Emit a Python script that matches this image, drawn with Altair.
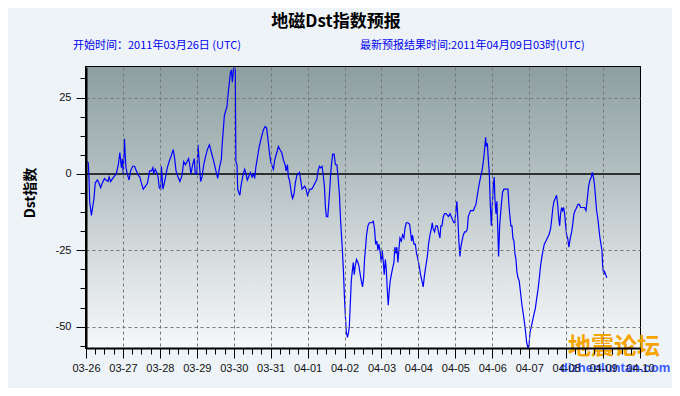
import altair as alt
import pandas as pd

# ---------------- data ----------------
day_labels = ["03-26", "03-27", "03-28", "03-29", "03-30", "03-31", "04-01", "04-02",
              "04-03", "04-04", "04-05", "04-06", "04-07", "04-08", "04-09", "04-10"]
y_ticks = [-56.25, -50, -43.75, -37.5, -31.25, -25, -18.75, -12.5, -6.25,
           0, 6.25, 12.5, 18.75, 25, 31.25]
x_ticks = list(range(0, 361, 6))  # every 6 hours from 03-26 00h to 04-10 00h
x_domain = [0, 360]
y_domain = [-57, 35]

# hours since 2011-03-26 00:00 UTC, and Dst values (nT)
h1 = [0.8, 1.5, 2, 2.4, 3.5, 4.3, 5.2, 6, 7.4, 8.4,
      9.5, 10.6, 12, 13, 14.3, 15, 16, 18, 19.7, 21,
      22, 23, 23.6, 24.2, 25, 25.5, 26, 26.8, 28, 29,
      30.3, 31.6, 32.7, 34, 35, 36, 37.2, 38.7, 40, 41.3,
      42.6, 43.5, 44, 45, 46, 46.8, 47.6, 48.5, 49, 50,
      50.9, 51.7, 52.8, 54, 55.4]
v1 = [4, 3.6, -2, -9, -13.6, -11, -8, -3, -2, -3,
      -4.5, -3, -1.5, -2, -2.5, -1, -2.5, -1, 0, 3,
      7, 2, 5, 0, 11.5, 6, 2, 0, -2, 1,
      2.5, 2.5, 1, -0.5, -1, -3, -5, -4, -3, 1,
      1, 2, 0, 1.5, 0.5, -1, -4.5, -5, 2.5, -5,
      -3, -1, 2, 4, 6]

h2 = [56.7, 57.6, 58.5, 59.8, 61, 62.4, 63.5, 64.6, 65.6, 66.7,
      67.4, 68.2, 69.3, 70.4, 71, 72, 72.8, 73.7, 74.5, 75.4,
      76.5, 77.6, 78.9, 80.2, 81.5, 82.8, 84, 84.9, 85.6, 86.7,
      88, 88.4, 89, 89.9, 91, 91.6, 92.3, 93.2, 93.8, 94.5,
      95.1, 95.8, 96.4, 97, 97.4, 98.1, 98.6, 99.2, 100, 100.7,
      101.4, 102.2, 103.1, 104, 104.8, 105.7, 106.8, 107.9, 109, 109.6,
      110.3, 111.3, 112.6]
v2 = [8, 5, 1, -1, -2.5, -0.5, 4, 3, 4, 5,
      3, 0, 3, 5, 0, 0, 9.5, 3, -2.5, -1,
      3, 5.5, 8, 9.5, 7, 4.5, 2, 0, -1.5, 2,
      5, 9, 13, 19, 21, 22, 26, 30, 33, 34,
      30, 34, 35, 34, 4, 3, -5, -6, -7, -4,
      -2, 0, 1.5, 0, -2, -1, 0.5, -1, 0, -1.5,
      2, 5, 9]

h3 = [114, 115.3, 116.4, 117.4, 118.3, 119.2, 120, 121, 121.8, 122.6,
      124, 125, 126, 127.2, 128.3, 129.4, 130, 130.9, 131.5, 132.2,
      132.8, 133.7, 134.3, 135.2, 136, 137, 137.8, 138.7, 139.5, 140.4,
      141.3, 142.1, 143, 143.9, 144.7, 145.6, 146.7, 147.8, 148.8, 149.9,
      150.8, 151.7, 152.5, 153.4, 154.3, 154.9, 155.6, 156.2, 157.1, 157.7,
      158.4, 159, 159.7, 160.3, 161.2, 162.1, 163, 163.8, 164.7, 165.3,
      166, 166.6, 167.3, 167.9, 168.6, 169.2, 169.9]
v3 = [12, 14.5, 15.5, 15, 11, 7, 4, 2.5, 1.5, 4.5,
      7, 9, 8, 7, 4.5, 3, 1, 3, -1, -2,
      -4, -7, -8, -6.5, -3, -0.5, 0, 0.5, -2, -5,
      -4.5, -4, -5, -7, -6, -5, -5, -4, -3, -2,
      1, 2.5, 2, 2.5, -1, -4, -11, -14, -14, -10,
      -5, 0, 4, 6.5, 6.5, 3, 3, -1, -7, -14,
      -20, -25, -32, -40, -47, -52, -53.5]

h4 = [170.6, 171.1, 171.7, 172.4, 173, 173.7, 174.3, 175, 175.8, 176.7,
      177.3, 178.2, 178.9, 179.7, 180.4, 181, 181.7, 182.3, 183.2, 184.1,
      184.9, 185.8, 186.7, 187.5, 188.2, 189, 189.7, 190.3, 191, 191.9,
      192.5, 193.2, 193.8, 194.5, 195.1, 195.8, 196.4, 197.1, 197.7, 198.4,
      199.2, 200.1, 200.7, 201.4, 202, 202.7, 203.3, 204, 204.9, 205.7,
      206.6, 207.2, 208.1, 209.2, 210.3, 210.9, 211.6, 212.2, 213.1, 214,
      214.8, 215.7, 216.5, 217.4, 218.3, 219.1, 220, 220.9, 221.8, 222.6,
      223.5, 224.4, 225, 225.6, 226.5, 227.4, 228.3]
v4 = [-52, -50, -43, -35, -32, -29, -33, -30, -28, -29,
      -30, -33, -35, -37, -34, -28, -24, -20, -17, -16,
      -16, -16, -15.5, -18, -23, -22, -25, -23, -25, -29,
      -25, -29, -33, -28, -31, -38, -43, -38, -35, -33,
      -31, -29, -24, -26, -24, -29, -25, -21, -22, -20,
      -21, -18, -16, -16, -16.5, -19, -22, -20, -23, -23,
      -26, -28, -30, -33, -35, -37, -33, -30, -27, -23,
      -20, -18, -16, -18, -19, -17, -17]

h5 = [229.1, 230, 230.6, 231.3, 232.2, 233, 233.9, 234.8, 235.6, 236.5,
      237.4, 238.2, 239.1, 239.7, 240.4, 241, 241.7, 242.3, 243, 243.6,
      244.3, 245.2, 246, 246.9, 247.8, 248.4, 249.1, 249.9, 250.8, 251.7,
      252.5, 253.4, 254.3, 255.1, 256, 256.9, 257.5, 258.4, 259, 259.7,
      260.1, 260.8, 261.4, 262.1, 262.7, 263.4, 264, 264.7, 265.3, 265.7,
      266.4, 267, 267.7, 268.1, 268.8, 269.4, 270.1, 270.7, 271.6, 272.5,
      273.3, 274.2, 274.8, 275.5, 276.1, 276.8, 277.4, 278.1, 278.7, 279.4,
      280, 280.7, 281.5, 282.4, 283.3, 284.2, 285, 285.7]
v5 = [-19, -21, -17, -17, -14, -13, -13, -13.5, -14, -13,
      -14, -15, -16, -16, -12, -9, -15, -22, -27, -24,
      -22, -20, -19, -19, -18, -14, -13, -12, -12, -12,
      -11, -10, -7, -4.5, -2, 0, 1.5, 5, 8, 12,
      9, 10, 5, 0, -10, -17, -10, -4, -1, -8,
      -13, -9, -20, -27, -17, -13, -9, -6, -5, -5,
      -5, -5, -10, -14, -17, -17, -21, -22, -26, -28,
      -32, -34, -35, -39, -43, -46, -49, -52]

h6 = [286.3, 287.2, 287.9, 288.5, 289.4, 290.2, 291.1, 292, 292.8, 293.7,
      294.6, 295.4, 296.3, 297, 297.8, 298.9, 299.8, 300.8, 301.9, 302.8,
      303.4, 304.1, 305, 305.8, 306.5, 307.1, 307.8, 308.4, 309.1, 309.7,
      310.4, 311, 311.7, 312.3, 313, 313.8, 314.7, 315.6, 316.4, 317.1,
      317.9, 318.8, 319.7, 320.6, 321.4, 322.3, 323.2, 324, 324.9, 325.8,
      326.6, 327.5, 328.4, 329, 329.7, 330.3, 331, 331.8, 332.7, 333.3,
      334, 334.6, 335.3, 335.7, 336.4, 337, 337.7, 338.5]
v6 = [-55, -57, -56, -52, -50, -48, -46, -44, -41, -38,
      -34, -30, -27, -25, -23, -22, -21, -20, -18, -14,
      -11, -9, -8, -7, -10, -14, -17, -13, -11, -12,
      -11, -13, -17, -20, -21, -24, -21, -19, -16, -13,
      -12, -11, -10, -10, -11, -11, -11, -11, -12, -8,
      -4, -2, -1, 0.5, -1, -3, -7, -12, -15, -18,
      -21, -23, -25, -30, -33, -32, -33, -34]

hours = h1 + h2 + h3 + h4 + h5 + h6
dst = v1 + v2 + v3 + v4 + v5 + v6
assert len(hours) == len(dst), (len(hours), len(dst))

title_text = "地磁Dst指数预报"
start_text = "开始时间：2011年03月26日 (UTC)"
latest_text = "最新预报结果时间:2011年04月09日03时(UTC)"
y_title = "Dst指数"
wm_cn = "地震论坛"
wm_en = "dizhenluntan.com"

# ---------------- chart ----------------
df = pd.DataFrame({"h": hours, "dst": dst})
js_days = "[" + ",".join("'%s'" % d for d in day_labels) + "]"

CJK = "Noto Sans CJK SC"
LAT = "Liberation Sans"

x_axis = alt.Axis(
    values=x_ticks, title=None, zindex=1,
    labelExpr="datum.value % 24 == 0 ? " + js_days + "[datum.value / 24] : ''",
    labelFont=LAT, labelFontSize=11, labelColor="#111111", labelPadding=4,
    labelOverlap=False, labelFlush=False, labelBound=False,
    tickColor="black", tickWidth=1,
    tickSize={"condition": {"test": "datum.value % 24 == 0", "value": 10}, "value": 6},
    domainColor="black", domainWidth=2,
    grid=True, gridColor="#777777", gridDash=[3, 3], gridWidth=1,
    gridOpacity={"condition": {"test": "datum.value % 24 == 0 && datum.value > 0 && datum.value < 360",
                               "value": 1}, "value": 0},
)
y_axis = alt.Axis(
    values=y_ticks, title=None, zindex=1,
    labelExpr="datum.value % 25 == 0 ? '' + datum.value : ''",
    labelFont=LAT, labelFontSize=11, labelColor="#111111", labelPadding=5,
    labelOverlap=False, labelFlush=False, labelBound=False,
    tickColor="black", tickWidth=1,
    tickSize={"condition": {"test": "datum.value % 25 == 0", "value": 10}, "value": 6},
    domainColor="black", domainWidth=2,
    grid=True, gridColor="#777777", gridDash=[3, 3], gridWidth=1,
    gridOpacity={"condition": {"test": "datum.value % 25 == 0 && datum.value != 0", "value": 1},
                 "value": 0},
)

xs = alt.Scale(domain=x_domain, nice=False, zero=False)
ys = alt.Scale(domain=y_domain, nice=False, zero=False)

gradient = alt.LinearGradient(
    gradient="linear", x1=0, y1=0, x2=0, y2=1,
    stops=[
        alt.GradientStop(offset=0, color="#8e9fa1"),
        alt.GradientStop(offset=0.38, color="#b3bfc1"),
        alt.GradientStop(offset=0.7, color="#d9dfe1"),
        alt.GradientStop(offset=1, color="#f6f8f9"),
    ],
)

bg = alt.Chart(pd.DataFrame({"a": [0]})).mark_rect(color=gradient).encode(
    x=alt.X(datum=x_domain[0], scale=xs, axis=x_axis),
    x2=alt.X2(datum=x_domain[1]),
    y=alt.Y(datum=y_domain[0], scale=ys, axis=y_axis),
    y2=alt.Y2(datum=y_domain[1]),
)

line = alt.Chart(df).mark_line(color="#0000ff", strokeWidth=1.2, clip=True).encode(
    x=alt.X("h:Q", scale=xs, axis=x_axis),
    y=alt.Y("dst:Q", scale=ys, axis=y_axis),
)

zero = alt.Chart(pd.DataFrame({"z": [0]})).mark_rule(color="black", strokeWidth=1.5).encode(
    y=alt.Y("z:Q", scale=ys, axis=y_axis)
)


def label(txt, x, y, **kw):
    return alt.Chart(pd.DataFrame({"t": [txt]})).mark_text(**kw).encode(
        text="t:N", x=alt.value(x), y=alt.value(y)
    )


t_title = label(title_text, 250, -45, font=CJK, fontSize=17, fontWeight="bold",
                color="black", align="center", baseline="middle")
t_start = label(start_text, -13, -21, font=CJK, fontSize=11, color="#0000ee",
                align="left", baseline="middle")
t_latest = label(latest_text, 274, -21, font=CJK, fontSize=11, color="#0000ee",
                 align="left", baseline="middle")
t_ytitle = label(y_title, -55, 126, font=CJK, fontSize=14, fontWeight="bold",
                 color="black", align="center", baseline="middle", angle=270)
t_wm_cn = label(wm_cn, 528, 280, font=CJK, fontSize=23, fontWeight="bold",
                color="#f5a400", align="center", baseline="middle")
t_wm_en = label(wm_en, 529, 301, font=LAT, fontSize=13, fontWeight="bold",
                color="#3d5cff", align="center", baseline="middle")

chart = alt.layer(bg, zero, line, t_title, t_start, t_latest, t_ytitle, t_wm_cn, t_wm_en).properties(
    width=554, height=281,
    autosize="none",
    padding={"left": 78, "top": 59, "right": 32, "bottom": 40},
    background="#edf3f7",
).configure_view(stroke="black", strokeWidth=2)

chart.save("out.html", embed_options={"renderer": "svg", "actions": False})
